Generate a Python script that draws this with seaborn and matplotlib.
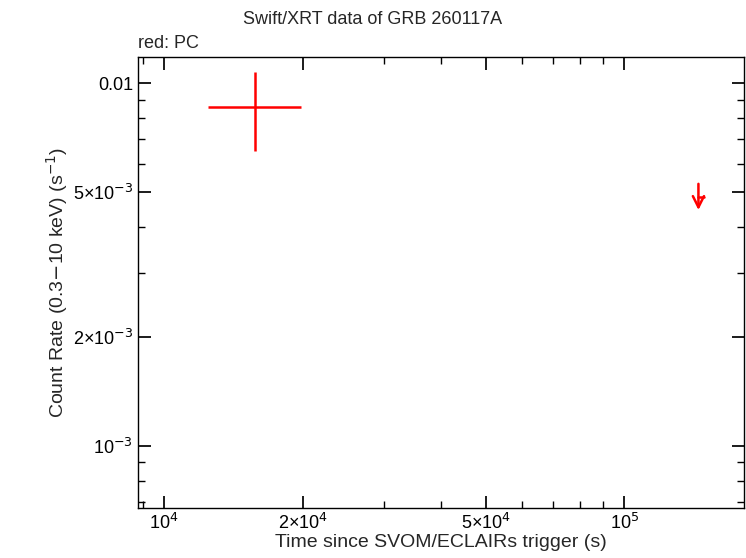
import matplotlib
matplotlib.use("Agg")
import matplotlib.pyplot as plt
import seaborn as sns
from matplotlib.ticker import FixedLocator, FixedFormatter, LogLocator, NullFormatter

# detection (PC mode)
det_t = [15780]
det_tlo = [12460]
det_thi = [19860]
det_rate = [0.00859]
det_rlo = [0.0065]
det_rhi = [0.01072]

# upper limit
ul_t = [144900]
ul_rate = [0.00485]

sns.set_theme(style="ticks")
plt.rcParams['font.family'] = ['Liberation Sans', 'DejaVu Sans']

fig = plt.figure(figsize=(7.46, 5.58), dpi=100)
ax = fig.add_axes([138/746, 1 - 508/558, (744-138)/746, (508-57)/558])

xerr = [[t - lo for t, lo in zip(det_t, det_tlo)], [hi - t for t, hi in zip(det_t, det_thi)]]
yerr = [[r - lo for r, lo in zip(det_rate, det_rlo)], [hi - r for r, hi in zip(det_rate, det_rhi)]]
ax.errorbar(det_t, det_rate, xerr=xerr, yerr=yerr, fmt='none', ecolor='red', elinewidth=1.8)

for t, r in zip(ul_t, ul_rate):
    ax.plot([t, t * 1.03], [r, r], color='red', lw=1.8)
    ax.annotate('', xy=(t, r * 0.905), xytext=(t, r * 1.107),
                arrowprops=dict(arrowstyle='->', color='red', lw=1.8, mutation_scale=20))

ax.set_xscale('log')
ax.set_yscale('log')
ax.set_xlim(8780, 182000)
ax.set_ylim(6.74e-4, 0.0118)

ax.xaxis.set_major_locator(FixedLocator([1e4, 2e4, 5e4, 1e5]))
ax.xaxis.set_major_formatter(FixedFormatter([r'10$^4$', r'2×10$^4$', r'5×10$^4$', r'10$^5$']))
ax.xaxis.set_minor_locator(LogLocator(base=10, subs=range(1, 10)))
ax.xaxis.set_minor_formatter(NullFormatter())
ax.yaxis.set_major_locator(FixedLocator([1e-3, 2e-3, 5e-3, 1e-2]))
ax.yaxis.set_major_formatter(FixedFormatter([r'10$^{-3}$', r'2×10$^{-3}$', r'5×10$^{-3}$', '0.01']))
ax.yaxis.set_minor_locator(LogLocator(base=10, subs=range(1, 10)))
ax.yaxis.set_minor_formatter(NullFormatter())

ax.tick_params(which='both', direction='in', top=True, right=True, labelsize=13, colors='black')
ax.tick_params(which='major', length=9)
ax.tick_params(which='minor', length=5)
for s in ax.spines.values():
    s.set_color('black')
    s.set_linewidth(1)

ax.set_xlabel('Time since SVOM/ECLAIRs trigger (s)', fontsize=14, labelpad=1)
ax.set_ylabel('Count Rate (0.3$-$10 keV) (s$^{-1}$)', fontsize=14, labelpad=2)
fig.text(0.5, 1 - 20/558, 'Swift/XRT data of GRB 260117A', ha='center', va='center', fontsize=13)
fig.text(138/746, 1 - 43/558, 'red: PC', ha='left', va='center', fontsize=13)

fig.savefig('out.png', dpi=100)
